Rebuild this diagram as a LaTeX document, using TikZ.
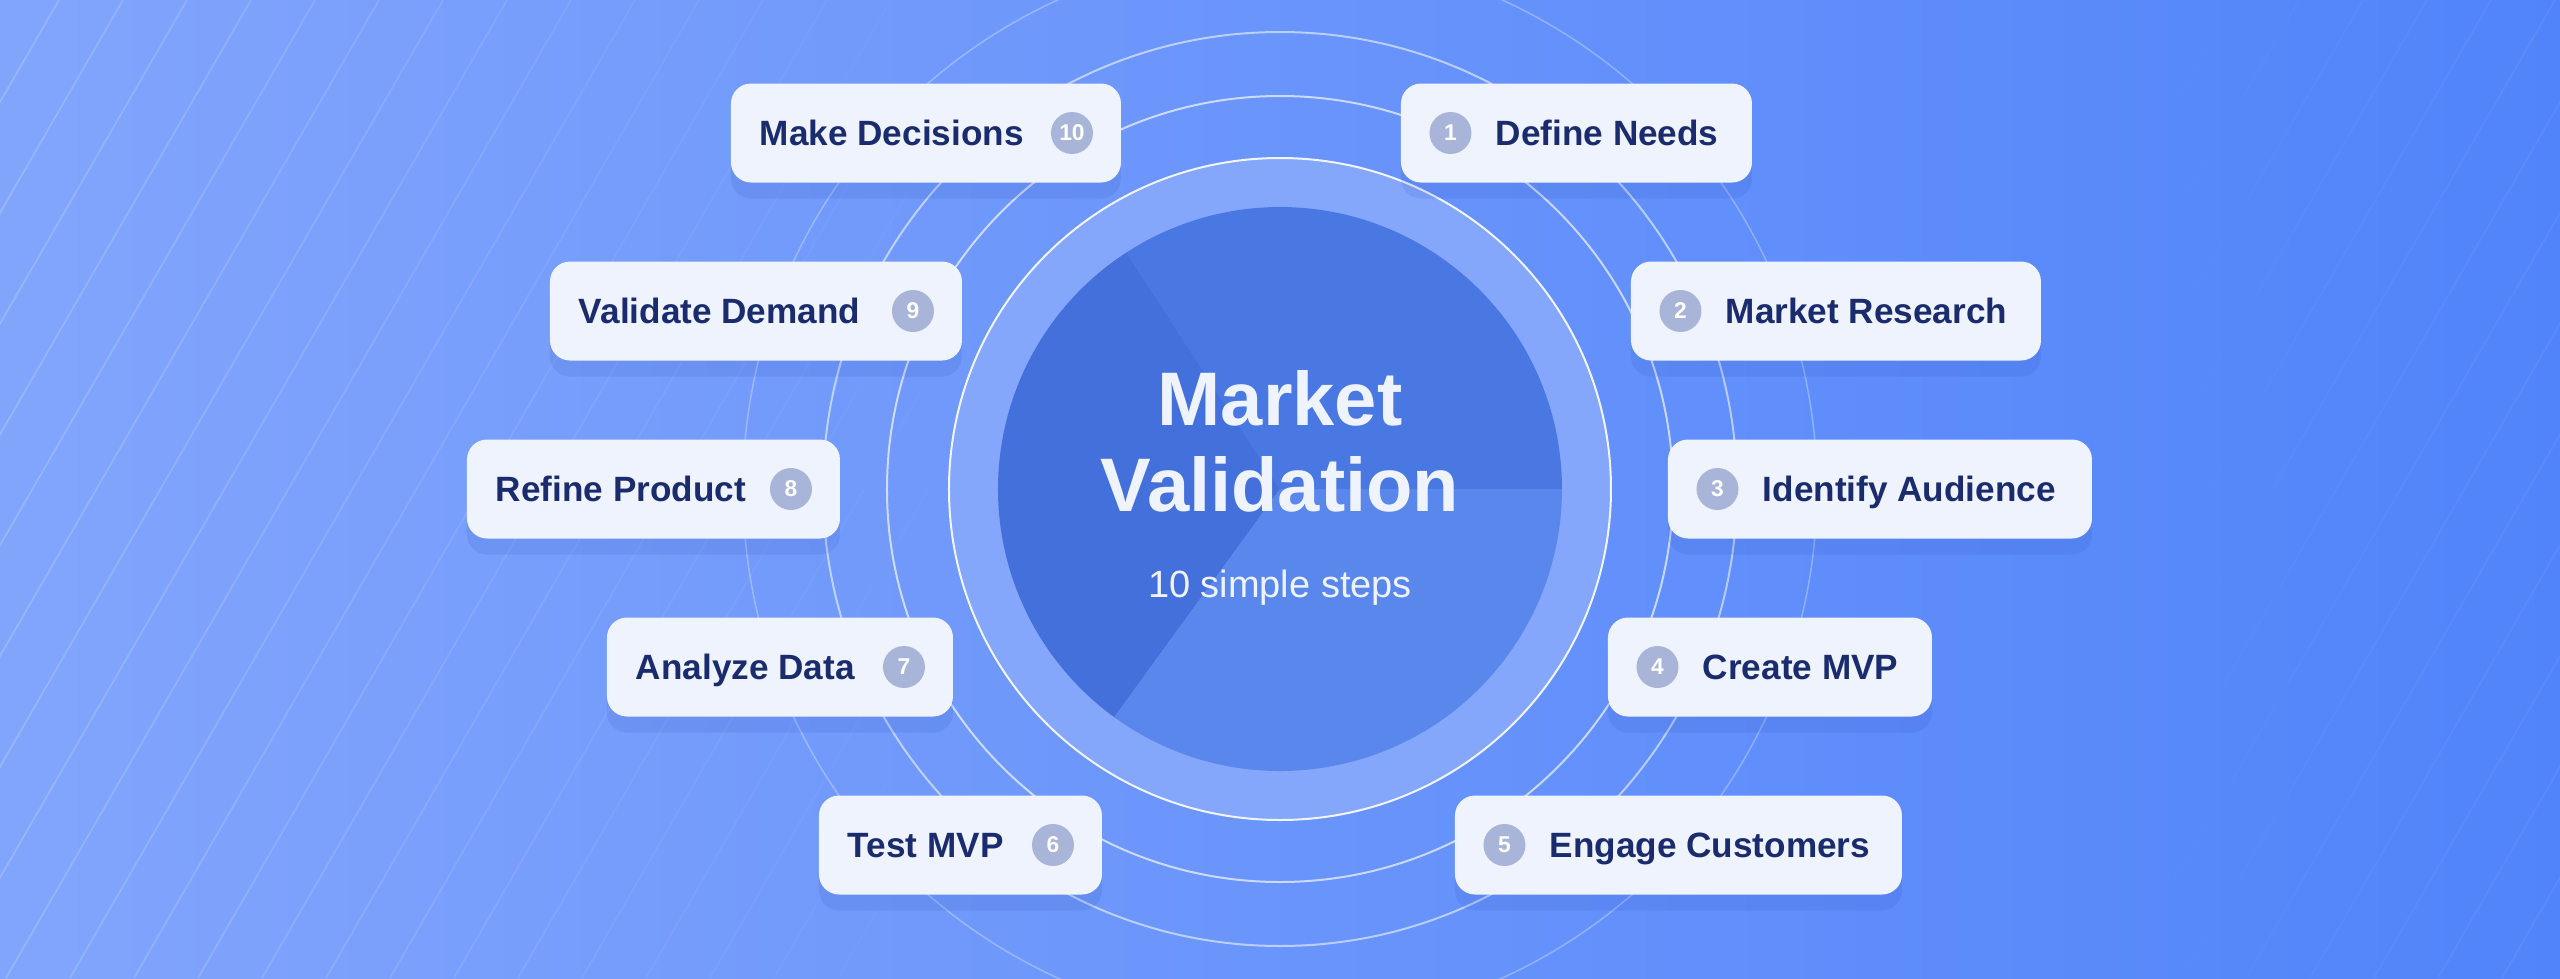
\documentclass[tikz,border=0pt]{standalone}
\usepackage{fontspec}
\setmainfont{Liberation Sans}
\usetikzlibrary{positioning, shadows}

\definecolor{navy}{HTML}{1B2C6E}
\definecolor{boxfill}{HTML}{EEF3FE}
\definecolor{badgefill}{HTML}{A8B4D8}
\definecolor{bgleft}{HTML}{82A5FC}
\definecolor{bgright}{HTML}{5184FA}
\definecolor{ringfill}{HTML}{84A7FC}
\definecolor{pieA}{HTML}{4A78E2}
\definecolor{pieB}{HTML}{4470DB}
\definecolor{pieC}{HTML}{5A87EB}
\definecolor{shadowblue}{HTML}{2A4DB8}

\begin{document}
\begin{tikzpicture}[x=1mm, y=1mm,
        stepbox/.style={fill=boxfill, rounded corners=2mm, minimum height=9.9mm, inner sep=0pt,
          drop shadow={shadow xshift=0mm, shadow yshift=-1.6mm, opacity=0.13, fill=shadowblue}},
        steptext/.style={text=navy, font=\bfseries\fontsize{10}{12}\selectfont, inner sep=0pt,
          text height=2.53mm, text depth=0pt},
        badge/.style={circle, fill=badgefill, text=white, minimum size=4.2mm, inner sep=0pt,
          font=\bfseries\fontsize{6.5}{7}\selectfont},
        ring/.style={draw=white, line width=0.2mm},
        title/.style={text=boxfill, anchor=base, inner sep=0pt}]

        \useasboundingbox (-128,-48.9) rectangle (128,48.9);
        \shade[left color=bgleft, right color=bgright] (-128,-48.9) rectangle (128,48.9);

        % stripes
        \begin{scope}
          \clip (-128,-48.9) rectangle (128,48.9);
          \foreach \i in {0,...,50} {
            \foreach \j in {0,...,9} {
              \pgfmathsetmacro{\xa}{-185+6.4*\i+5.65*\j}
              \pgfmathsetmacro{\ya}{-48.9+9.78*\j}
              \pgfmathsetmacro{\op}{max(0,0.18*(1-(\xa+130.8)/100),0.07*(\xa-85)/45)}
              \draw[white, opacity=\op, line width=0.18mm] (\xa,\ya) -- ++(5.65,9.78);
            }
          }
        \end{scope}

        \draw[ring, opacity=0.3, line width=0.15mm] (0,0) circle (53.7);
        \draw[ring, opacity=0.55] (0,0) circle (45.7);
        \draw[ring, opacity=0.65] (0,0) circle (39.3);
        \fill[ringfill] (0,0) circle (33.1);
        \draw[ring, opacity=0.9] (0,0) circle (33.1);

        \fill[pieA] (0,0) -- (0:28.2) arc (0:123:28.2) -- cycle;
        \fill[pieB] (0,0) -- (123:28.2) arc (123:234:28.2) -- cycle;
        \fill[pieC] (0,0) -- (234:28.2) arc (234:360:28.2) -- cycle;

        \node[title, font=\bfseries\fontsize{21.6}{26}\selectfont] at (0,6.4) (titleTop) {Market};
        \node[title, font=\bfseries\fontsize{21.6}{26}\selectfont] at (0,-2.2) (titleBottom) {Validation};
        \node[title, font=\fontsize{10.8}{13}\selectfont] at (0,-10.8) (subtitle) {10 simple steps};

        % left column
        \node[stepbox, minimum width=39mm] at (-35.4,35.6) (decide) {};
        \node[steptext, right=2.9mm of decide.west] (decideText) {Make Decisions};
        \node[badge, left=2.8mm of decide.east] (decideNum) {10};

        \node[stepbox, minimum width=41.2mm] at (-52.4,17.8) (demand) {};
        \node[steptext, right=2.9mm of demand.west] (demandText) {Validate Demand};
        \node[badge, left=2.8mm of demand.east] (demandNum) {9};

        \node[stepbox, minimum width=37.3mm] at (-62.65,0) (refine) {};
        \node[steptext, right=2.9mm of refine.west] (refineText) {Refine Product};
        \node[badge, left=2.8mm of refine.east] (refineNum) {8};

        \node[stepbox, minimum width=34.6mm] at (-50.0,-17.8) (analyze) {};
        \node[steptext, right=2.9mm of analyze.west] (analyzeText) {Analyze Data};
        \node[badge, left=2.8mm of analyze.east] (analyzeNum) {7};

        \node[stepbox, minimum width=28.3mm] at (-31.95,-35.6) (test) {};
        \node[steptext, right=2.9mm of test.west] (testText) {Test MVP};
        \node[badge, left=2.8mm of test.east] (testNum) {6};

        % right column
        \node[stepbox, minimum width=35.1mm] at (29.65,35.6) (define) {};
        \node[badge, right=2.85mm of define.west] (defineNum) {1};
        \node[steptext, right=2.3mm of defineNum] (defineText) {Define Needs};

        \node[stepbox, minimum width=41mm] at (55.6,17.8) (research) {};
        \node[badge, right=2.85mm of research.west] (researchNum) {2};
        \node[steptext, right=2.3mm of researchNum] (researchText) {Market Research};

        \node[stepbox, minimum width=42.4mm] at (60.0,0) (audience) {};
        \node[badge, right=2.85mm of audience.west] (audienceNum) {3};
        \node[steptext, right=2.3mm of audienceNum] (audienceText) {Identify Audience};

        \node[stepbox, minimum width=32.4mm] at (49.0,-17.8) (mvp) {};
        \node[badge, right=2.85mm of mvp.west] (mvpNum) {4};
        \node[steptext, right=2.3mm of mvpNum] (mvpText) {Create MVP};

        \node[stepbox, minimum width=44.7mm] at (39.85,-35.6) (engage) {};
        \node[badge, right=2.85mm of engage.west] (engageNum) {5};
        \node[steptext, right=2.3mm of engageNum] (engageText) {Engage Customers};

      \end{tikzpicture}
\end{document}
